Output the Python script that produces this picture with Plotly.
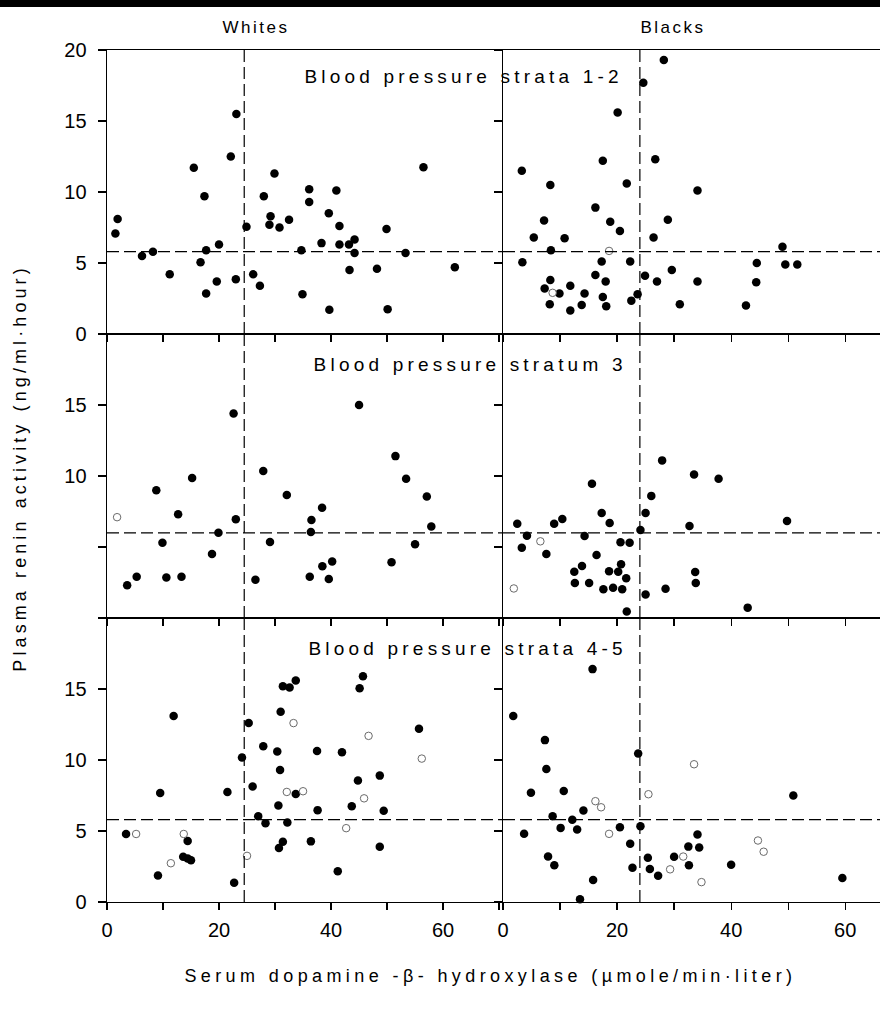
import plotly.graph_objects as go
from plotly.subplots import make_subplots

# ---------------- data ----------------
# Whites, blood pressure strata 1-2
w12_x = [1.5, 1.9, 6.25, 8.2, 11.2, 15.5, 16.7, 17.4, 17.7, 17.7, 19.6, 20.0, 22.1, 23.1, 23.0,
         24.9, 26.1, 27.3, 28.0, 29.2, 29.0, 29.9, 30.8, 32.5, 34.7, 34.9, 36.1, 36.1, 38.3, 39.6,
         39.7, 40.95, 41.5, 41.5, 43.2, 44.2, 44.2, 43.3, 48.2, 49.9, 50.1, 53.3, 56.5, 62.1]
w12_y = [7.07, 8.1, 5.5, 5.8, 4.2, 11.7, 5.05, 9.7, 5.9, 2.85, 3.7, 6.3, 12.5, 15.5, 3.85,
         7.55, 4.2, 3.4, 9.7, 8.3, 7.7, 11.3, 7.5, 8.05, 5.9, 2.8, 10.2, 9.3, 6.4, 8.5,
         1.7, 10.1, 7.6, 6.3, 6.3, 6.65, 5.7, 4.5, 4.6, 7.4, 1.75, 5.7, 11.75, 4.7]
w12_ox = []
w12_oy = []

# Blacks, blood pressure strata 1-2
b12_x = [3.3, 5.4, 7.2, 8.3, 8.4, 3.4, 8.3, 7.3, 9.9, 8.2, 10.8, 11.8, 11.8, 13.8, 14.3,
         16.2, 17.5, 17.3, 16.2, 18.0, 17.5, 18.1, 18.8, 20.1, 20.5, 21.7, 22.3, 22.5, 23.6,
         24.6, 24.9, 26.7, 26.4, 27.0, 28.2, 28.9, 29.6, 31.0, 34.1, 34.1, 42.6, 44.5, 44.4,
         49.0, 49.5, 51.6]
b12_y = [11.5, 6.8, 8.0, 10.5, 5.9, 5.05, 3.8, 3.2, 2.85, 2.1, 6.75, 3.4, 1.65, 2.05, 2.85,
         8.9, 12.2, 5.1, 4.15, 3.7, 2.6, 1.95, 7.9, 15.6, 7.25, 10.6, 5.1, 2.35, 2.8,
         17.7, 4.1, 12.3, 6.8, 3.7, 19.3, 8.05, 4.5, 2.1, 10.1, 3.7, 2.0, 5.0, 3.65,
         6.15, 4.9, 4.9]
b12_ox = [8.7, 18.6]
b12_oy = [2.9, 5.85]

# Whites, blood pressure stratum 3
w3_x = [3.6, 5.3, 8.8, 9.9, 10.6, 12.7, 13.3, 15.2, 18.75, 19.9, 22.6, 23.0, 26.5, 27.9, 29.1,
        32.1, 36.2, 36.5, 36.4, 38.4, 38.45, 39.6, 40.2, 45.0, 50.8, 51.5, 53.4, 55.0, 57.1, 57.9]
w3_y = [2.3, 2.9, 9.0, 5.3, 2.85, 7.3, 2.9, 9.86, 4.5, 6.0, 14.4, 6.95, 2.7, 10.36, 5.36,
        8.67, 2.9, 6.9, 6.05, 7.76, 3.64, 2.74, 3.98, 15.0, 3.93, 11.4, 9.8, 5.2, 8.55, 6.45]
w3_ox = [1.8]
w3_oy = [7.1]

# Blacks, blood pressure stratum 3
b3_x = [2.5, 4.2, 3.3, 7.6, 8.97, 10.4, 12.5, 13.85, 12.6, 15.1, 14.3, 15.6, 16.4, 17.3, 18.6,
        17.6, 18.7, 19.3, 20.2, 20.7, 20.6, 22.2, 21.6, 20.9, 21.7, 24.1, 25.0, 26.0, 25.0,
        27.9, 28.5, 32.7, 33.5, 33.7, 33.8, 37.8, 42.9, 49.8]
b3_y = [6.64, 5.8, 4.94, 4.5, 6.64, 6.97, 3.26, 3.66, 2.46, 2.46, 5.77, 9.46, 4.44, 7.4, 3.3,
        2.03, 6.69, 2.13, 3.26, 3.78, 5.34, 5.3, 2.8, 2.03, 0.45, 6.2, 7.4, 8.6, 1.65,
        11.1, 2.06, 6.48, 10.1, 3.24, 2.46, 9.8, 0.73, 6.83]
b3_ox = [6.55, 1.9]
b3_oy = [5.4, 2.08]

# Whites, blood pressure strata 4-5
w45_x = [3.4, 9.5, 9.1, 11.9, 14.4, 13.6, 14.4, 15.0, 21.5, 22.7, 24.1, 25.3, 26.0, 27.0, 28.3,
         27.9, 30.4, 30.6, 30.9, 31.0, 31.4, 32.6, 33.7, 33.7, 32.2, 31.4, 30.7, 36.4, 37.5,
         37.6, 41.2, 41.95, 43.7, 44.8, 45.1, 45.7, 48.7, 48.7, 49.4, 55.7]
w45_y = [4.79, 7.68, 1.87, 13.1, 4.29, 3.18, 3.06, 2.94, 7.75, 1.35, 10.17, 12.6, 8.13, 6.04, 5.55,
         10.97, 10.6, 6.8, 9.3, 13.4, 15.2, 15.1, 15.6, 7.6, 5.6, 4.24, 3.8, 4.27, 10.64,
         6.47, 2.16, 10.55, 6.75, 8.55, 15.05, 15.9, 8.9, 3.89, 6.42, 12.2]
w45_ox = [5.2, 11.4, 13.7, 25.0, 33.3, 32.1, 35.0, 42.7, 45.9, 46.7, 56.2]
w45_oy = [4.79, 2.73, 4.79, 3.25, 12.6, 7.75, 7.8, 5.2, 7.3, 11.7, 10.1]

# Blacks, blood pressure strata 4-5
b45_x = [1.8, 15.7, 7.35, 7.6, 4.9, 10.65, 8.7, 3.7, 10.1, 12.15, 13.0, 14.1, 7.9, 9.0, 15.8,
         13.5, 20.5, 22.3, 22.7, 23.7, 24.1, 25.4, 25.75, 27.2, 30.0, 32.6, 32.5, 34.1, 34.4,
         40.0, 50.9, 59.5]
b45_y = [13.1, 16.4, 11.4, 9.37, 7.7, 7.82, 6.04, 4.8, 5.22, 5.8, 5.1, 6.44, 3.2, 2.58, 1.55,
         0.2, 5.27, 4.1, 2.41, 10.45, 5.34, 3.11, 2.32, 1.85, 3.18, 2.58, 3.9, 4.75, 3.84,
         2.62, 7.5, 1.69]
b45_ox = [16.2, 17.2, 18.6, 25.5, 29.3, 31.6, 33.5, 34.8, 44.7, 45.7]
b45_oy = [7.1, 6.67, 4.8, 7.59, 2.3, 3.2, 9.7, 1.4, 4.33, 3.54]

# reference (dashed) lines
vline_x = [24.5, 24.0]            # per column (Whites, Blacks)
hline_y = [5.8, 6.0, 5.8]         # per row

col_titles = ["Whites", "Blacks"]
row_titles = ["Blood pressure strata 1-2", "Blood pressure stratum 3", "Blood pressure strata 4-5"]
y_title = "Plasma renin activity (ng/ml\u00b7hour)"
x_title = "Serum dopamine -\u03b2- hydroxylase (\u00b5mole/min\u00b7liter)"

x_ticks_left = [0, 10, 20, 30, 40, 50, 60, 70]
x_ticks_right = [0, 10, 20, 30, 40, 50, 60]
x_labels_left = ["0", "", "20", "", "40", "", "60", ""]
x_labels_right = ["0", "", "20", "", "40", "", "60"]
y_ticks = [0, 5, 10, 15, 20]
y_labels_rows = [["0", "5", "10", "15", "20"],
                 ["", "", "10", "15", ""],
                 ["0", "5", "10", "15", ""]]

panels = [
    [(w12_x, w12_y, w12_ox, w12_oy), (b12_x, b12_y, b12_ox, b12_oy)],
    [(w3_x, w3_y, w3_ox, w3_oy), (b3_x, b3_y, b3_ox, b3_oy)],
    [(w45_x, w45_y, w45_ox, w45_oy), (b45_x, b45_y, b45_ox, b45_oy)],
]

# ---------------- figure ----------------
FONT = "Liberation Sans"
W, H = 880, 1014
ML, MR, MT, MB = 107, 0, 50, 112
PW, PH = W - ML - MR, H - MT - MB
LEFT_W = 396
x_range_left = [0, 70.7]
x_range_right = [0, 66.1]
DASH = "12px,5px"

fig = make_subplots(rows=3, cols=2, column_widths=[LEFT_W / PW, (PW - LEFT_W) / PW],
                    horizontal_spacing=0, vertical_spacing=0)

for r in range(3):
    for c in range(2):
        fx, fy, ox, oy = panels[r][c]
        fig.add_trace(go.Scatter(x=fx, y=fy, mode="markers",
                                 marker=dict(size=8.5, color="black", line=dict(width=0)),
                                 showlegend=False, hoverinfo="skip", cliponaxis=False),
                      row=r + 1, col=c + 1)
        if ox:
            fig.add_trace(go.Scatter(x=ox, y=oy, mode="markers",
                                     marker=dict(size=7.5, color="white",
                                                 line=dict(width=1, color="#6a6a6a")),
                                     showlegend=False, hoverinfo="skip"),
                          row=r + 1, col=c + 1)
        xr = x_range_left if c == 0 else x_range_right
        # dashed reference lines
        fig.add_shape(type="line", x0=vline_x[c], x1=vline_x[c], y0=0, y1=20,
                      line=dict(color="black", width=1.2, dash=DASH), row=r + 1, col=c + 1)
        fig.add_shape(type="line", x0=0, x1=xr[1], y0=hline_y[r], y1=hline_y[r],
                      line=dict(color="black", width=1.2, dash=DASH), row=r + 1, col=c + 1)
        fig.update_xaxes(range=xr, showline=True, linecolor="black", linewidth=1.4, mirror=True,
                         ticks="outside", ticklen=7, tickwidth=1.2, tickcolor="black",
                         tickvals=x_ticks_left if c == 0 else x_ticks_right,
                         ticktext=x_labels_left if c == 0 else x_labels_right,
                         showticklabels=(r == 2), showgrid=False, zeroline=False,
                         ticklabelstandoff=3,
                         tickfont=dict(family=FONT, size=20, color="black"),
                         row=r + 1, col=c + 1)
        fig.update_yaxes(range=[0, 20], showline=True, linecolor="black", linewidth=1.4,
                         mirror=False, ticks="outside", ticklen=8, tickwidth=1.2,
                         tickcolor="black", tickvals=y_ticks, ticktext=y_labels_rows[r],
                         showticklabels=(c == 0), showgrid=False, zeroline=False,
                         ticklabelstandoff=7,
                         tickfont=dict(family=FONT, size=20, color="black"),
                         row=r + 1, col=c + 1)


def px(xp):
    return (xp - ML) / PW


def py(yp):
    return (H - MB - yp) / PH


annotations = [
    dict(text=col_titles[0], x=px(256), y=py(28), font_size=17),
    dict(text=col_titles[1], x=px(673), y=py(28), font_size=17),
    dict(text=row_titles[0], x=px(463), y=py(77), font_size=19),
    dict(text=row_titles[1], x=px(470), y=py(364), font_size=19),
    dict(text=row_titles[2], x=px(467), y=py(648), font_size=19),
    dict(text=x_title, x=px(490), y=py(976), font_size=18),
    dict(text=y_title, x=px(20), y=py(468), textangle=-90, font_size=18),
]
for a in annotations:
    fs = a.pop("font_size")
    fig.add_annotation(xref="paper", yref="paper", showarrow=False, xanchor="center",
                       yanchor="middle", font=dict(family=FONT, size=fs, color="black"), **a)

# black band at top of the scanned page
fig.add_shape(type="rect", xref="paper", yref="paper", x0=px(0), x1=px(W), y0=py(7), y1=py(0),
              fillcolor="black", line=dict(width=0), layer="above")

fig.update_layout(width=W, height=H, margin=dict(l=ML, r=MR, t=MT, b=MB),
                  paper_bgcolor="white", plot_bgcolor="white",
                  font=dict(family=FONT, color="black"))

post = """
var gd = document.getElementById('{plot_id}');
gd.querySelectorAll('text').forEach(function(t){
  var s = t.textContent;
  if (s.indexOf('Blood') === 0) t.setAttribute('letter-spacing', '4.2px');
  else if (s.indexOf('Plasma') === 0) t.setAttribute('letter-spacing', '4.1px');
  else if (s.indexOf('Serum') === 0) t.setAttribute('letter-spacing', '4.4px');
  else if (s === 'Whites' || s === 'Blacks') t.setAttribute('letter-spacing', '2.5px');
});
"""

fig.write_html("out.html", post_script=post, config={"staticPlot": True})
